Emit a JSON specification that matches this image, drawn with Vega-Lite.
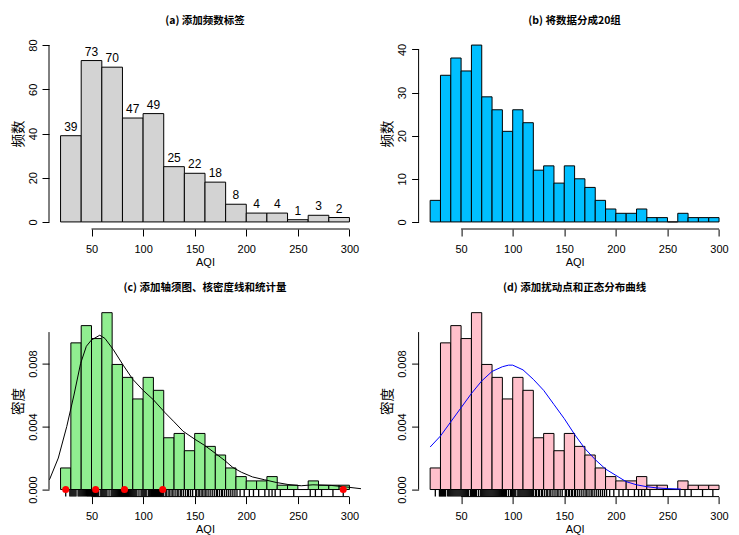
{
  "$schema": "https://vega.github.io/schema/vega-lite/v6.json",
  "bounds": "flush",
  "columns": 2,
  "spacing": {"row": 76.6, "column": 57.6},
  "padding": {"left": 10, "top": 15, "right": 5, "bottom": 3},
  "background": "white",
  "datasets": {
    "bins20": [
      {"lo": 20, "hi": 40, "mid": 30, "count": 39},
      {"lo": 40, "hi": 60, "mid": 50, "count": 73},
      {"lo": 60, "hi": 80, "mid": 70, "count": 70},
      {"lo": 80, "hi": 100, "mid": 90, "count": 47},
      {"lo": 100, "hi": 120, "mid": 110, "count": 49},
      {"lo": 120, "hi": 140, "mid": 130, "count": 25},
      {"lo": 140, "hi": 160, "mid": 150, "count": 22},
      {"lo": 160, "hi": 180, "mid": 170, "count": 18},
      {"lo": 180, "hi": 200, "mid": 190, "count": 8},
      {"lo": 200, "hi": 220, "mid": 210, "count": 4},
      {"lo": 220, "hi": 240, "mid": 230, "count": 4},
      {"lo": 240, "hi": 260, "mid": 250, "count": 1},
      {"lo": 260, "hi": 280, "mid": 270, "count": 3},
      {"lo": 280, "hi": 300, "mid": 290, "count": 2}
    ],
    "bins10": [
      {"lo": 20, "hi": 30, "count": 5, "density": 0.00137},
      {"lo": 30, "hi": 40, "count": 34, "density": 0.009315},
      {"lo": 40, "hi": 50, "count": 38, "density": 0.010411},
      {"lo": 50, "hi": 60, "count": 35, "density": 0.009589},
      {"lo": 60, "hi": 70, "count": 41, "density": 0.011233},
      {"lo": 70, "hi": 80, "count": 29, "density": 0.007945},
      {"lo": 80, "hi": 90, "count": 26, "density": 0.007123},
      {"lo": 90, "hi": 100, "count": 21, "density": 0.005753},
      {"lo": 100, "hi": 110, "count": 26, "density": 0.007123},
      {"lo": 110, "hi": 120, "count": 23, "density": 0.006301},
      {"lo": 120, "hi": 130, "count": 12, "density": 0.003288},
      {"lo": 130, "hi": 140, "count": 13, "density": 0.003562},
      {"lo": 140, "hi": 150, "count": 9, "density": 0.002466},
      {"lo": 150, "hi": 160, "count": 13, "density": 0.003562},
      {"lo": 160, "hi": 170, "count": 10, "density": 0.00274},
      {"lo": 170, "hi": 180, "count": 8, "density": 0.002192},
      {"lo": 180, "hi": 190, "count": 5, "density": 0.00137},
      {"lo": 190, "hi": 200, "count": 3, "density": 0.000822},
      {"lo": 200, "hi": 210, "count": 2, "density": 0.000548},
      {"lo": 210, "hi": 220, "count": 2, "density": 0.000548},
      {"lo": 220, "hi": 230, "count": 3, "density": 0.000822},
      {"lo": 230, "hi": 240, "count": 1, "density": 0.000274},
      {"lo": 240, "hi": 250, "count": 1, "density": 0.000274},
      {"lo": 250, "hi": 260, "count": 0, "density": 0},
      {"lo": 260, "hi": 270, "count": 2, "density": 0.000548},
      {"lo": 270, "hi": 280, "count": 1, "density": 0.000274},
      {"lo": 280, "hi": 290, "count": 1, "density": 0.000274},
      {"lo": 290, "hi": 300, "count": 1, "density": 0.000274}
    ],
    "kde": [
      {"x": 3, "d": 0.0002},
      {"x": 9.6, "d": 0.00068},
      {"x": 17.8, "d": 0.002},
      {"x": 26, "d": 0.004},
      {"x": 33, "d": 0.006},
      {"x": 39.4, "d": 0.008},
      {"x": 45, "d": 0.0091},
      {"x": 50, "d": 0.0095},
      {"x": 58, "d": 0.0098},
      {"x": 63, "d": 0.0096},
      {"x": 71, "d": 0.0089},
      {"x": 80.7, "d": 0.0079},
      {"x": 90, "d": 0.007},
      {"x": 100, "d": 0.0063},
      {"x": 110, "d": 0.0057},
      {"x": 121, "d": 0.0049},
      {"x": 130, "d": 0.0043},
      {"x": 138.8, "d": 0.0037},
      {"x": 150, "d": 0.0032},
      {"x": 159.7, "d": 0.0028},
      {"x": 170, "d": 0.0023},
      {"x": 179, "d": 0.00185},
      {"x": 187, "d": 0.0014},
      {"x": 195.2, "d": 0.0011},
      {"x": 206, "d": 0.0008},
      {"x": 217.8, "d": 0.00062},
      {"x": 229, "d": 0.00045},
      {"x": 240.4, "d": 0.00032},
      {"x": 253.3, "d": 0.00024},
      {"x": 264.6, "d": 0.0003},
      {"x": 282.3, "d": 0.00026},
      {"x": 298.5, "d": 0.00015},
      {"x": 311.4, "d": 0.00005},
      {"x": 320, "d": 0.00002}
    ],
    "normal": [
      {"x": 20, "d": 0.0027},
      {"x": 30, "d": 0.0034},
      {"x": 40, "d": 0.0043},
      {"x": 50, "d": 0.0052},
      {"x": 60, "d": 0.0061},
      {"x": 70, "d": 0.0069},
      {"x": 80, "d": 0.0075},
      {"x": 90, "d": 0.0078},
      {"x": 96, "d": 0.0079},
      {"x": 100, "d": 0.0079},
      {"x": 110, "d": 0.0076},
      {"x": 120, "d": 0.007},
      {"x": 130, "d": 0.0063},
      {"x": 140, "d": 0.0054},
      {"x": 150, "d": 0.0045},
      {"x": 160, "d": 0.0035},
      {"x": 170, "d": 0.0026},
      {"x": 180, "d": 0.0019},
      {"x": 190, "d": 0.0013},
      {"x": 200, "d": 0.0009},
      {"x": 210, "d": 0.0005},
      {"x": 220, "d": 0.0003},
      {"x": 230, "d": 0.00018},
      {"x": 240, "d": 0.0001},
      {"x": 250, "d": 0.00006},
      {"x": 263, "d": 0.00003}
    ],
    "stats": [
      {"v": 25}, {"v": 54}, {"v": 82}, {"v": 119}, {"v": 294}
    ],
    "rug": [
      {"v": 25}, {"v": 29}, {"v": 30}, {"v": 31}, {"v": 32}, {"v": 33}, {"v": 34}, {"v": 35}, {"v": 37}, {"v": 38},
      {"v": 39}, {"v": 40}, {"v": 41}, {"v": 42}, {"v": 43}, {"v": 44}, {"v": 45}, {"v": 46}, {"v": 47}, {"v": 48},
      {"v": 49}, {"v": 50}, {"v": 51}, {"v": 52}, {"v": 53}, {"v": 54}, {"v": 55}, {"v": 56}, {"v": 57}, {"v": 59},
      {"v": 60}, {"v": 61}, {"v": 62}, {"v": 63}, {"v": 64}, {"v": 65}, {"v": 67}, {"v": 69}, {"v": 70}, {"v": 71},
      {"v": 72}, {"v": 73}, {"v": 74}, {"v": 75}, {"v": 76}, {"v": 77}, {"v": 78}, {"v": 79}, {"v": 80}, {"v": 81},
      {"v": 82}, {"v": 83}, {"v": 84}, {"v": 85}, {"v": 86}, {"v": 87}, {"v": 88}, {"v": 89}, {"v": 90}, {"v": 91},
      {"v": 92}, {"v": 93}, {"v": 94}, {"v": 96}, {"v": 98}, {"v": 99}, {"v": 100}, {"v": 101}, {"v": 102}, {"v": 103},
      {"v": 105}, {"v": 106}, {"v": 107}, {"v": 108}, {"v": 109}, {"v": 110}, {"v": 111}, {"v": 112}, {"v": 113}, {"v": 114},
      {"v": 115}, {"v": 116}, {"v": 117}, {"v": 118}, {"v": 119}, {"v": 120}, {"v": 122}, {"v": 123}, {"v": 125}, {"v": 126},
      {"v": 128}, {"v": 129}, {"v": 131}, {"v": 133}, {"v": 134}, {"v": 136}, {"v": 137}, {"v": 139}, {"v": 141}, {"v": 143},
      {"v": 144}, {"v": 146}, {"v": 148}, {"v": 151}, {"v": 152}, {"v": 154}, {"v": 155}, {"v": 157}, {"v": 158}, {"v": 160},
      {"v": 161}, {"v": 163}, {"v": 165}, {"v": 167}, {"v": 169}, {"v": 171}, {"v": 172}, {"v": 174}, {"v": 176}, {"v": 177},
      {"v": 179}, {"v": 181}, {"v": 183}, {"v": 185}, {"v": 187}, {"v": 189}, {"v": 191}, {"v": 194}, {"v": 198}, {"v": 203},
      {"v": 207}, {"v": 212}, {"v": 218}, {"v": 222}, {"v": 225}, {"v": 228}, {"v": 233}, {"v": 246}, {"v": 262}, {"v": 267},
      {"v": 273}, {"v": 284}, {"v": 294}
    ],
    "one": [{"k": 1}]
  },
  "config": {
    "font": "Liberation Sans",
    "view": {"stroke": null},
    "axis": {
      "grid": false, "domain": false, "tickColor": "black", "tickSize": 7, "tickWidth": 1,
      "labelColor": "black", "labelFont": "Liberation Sans", "labelFontSize": 11,
      "labelOverlap": false, "labelFlush": false,
      "titleColor": "black", "titleFontWeight": "normal"
    },
    "axisX": {"labelPadding": 7, "titlePadding": 2, "titleFont": "Liberation Sans", "titleFontSize": 11, "labelAngle": 0, "labelAlign": "center", "labelBaseline": "top"},
    "axisY": {"labelAngle": 270, "labelAlign": "center", "labelBaseline": "bottom", "labelPadding": 4, "titlePadding": 2, "titleFont": "Noto Sans CJK SC", "titleFontSize": 13.5},
    "title": {"font": "Noto Sans CJK SC", "fontSize": 10.5, "fontWeight": "bold", "color": "black", "anchor": "middle", "frame": "group", "offset": 12, "baseline": "bottom"}
  },
  "concat": [
    {
      "width": 312, "height": 191,
      "title": "(a) 添加频数标签",
      "layer": [
        {
          "data": {"name": "bins20"},
          "mark": {"type": "bar", "fill": "#D3D3D3", "stroke": "black", "strokeWidth": 1},
          "encoding": {
            "x": {"field": "lo", "type": "quantitative", "title": "AQI", "scale": {"domain": [8.8, 311.2], "nice": false, "zero": false}, "axis": {"values": [50, 100, 150, 200, 250, 300]}},
            "x2": {"field": "hi"},
            "y": {"field": "count", "type": "quantitative", "title": "频数", "scale": {"domain": [-3.2, 83.2], "nice": false, "zero": false}, "axis": {"values": [0, 20, 40, 60, 80]}},
            "y2": {"datum": 0}
          }
        },
        {
          "data": {"name": "bins20"},
          "mark": {"type": "text", "baseline": "bottom", "dy": -2, "fontSize": 12, "color": "black"},
          "encoding": {
            "x": {"field": "mid", "type": "quantitative", "title": "AQI"},
            "y": {"field": "count", "type": "quantitative", "title": "频数"},
            "text": {"field": "count"}
          }
        },
        {
          "data": {"name": "one"},
          "mark": {"type": "rule", "color": "black", "strokeWidth": 1},
          "encoding": {"x": {"datum": 50}, "x2": {"datum": 300}, "y": {"datum": -3.2}}
        },
        {
          "data": {"name": "one"},
          "mark": {"type": "rule", "color": "black", "strokeWidth": 1},
          "encoding": {"x": {"datum": 8.8}, "y": {"datum": 0}, "y2": {"datum": 80}}
        }
      ]
    },
    {
      "width": 312, "height": 191,
      "title": "(b) 将数据分成20组",
      "layer": [
        {
          "data": {"name": "bins10"},
          "mark": {"type": "bar", "fill": "#00BFFF", "stroke": "black", "strokeWidth": 1},
          "encoding": {
            "x": {"field": "lo", "type": "quantitative", "title": "AQI", "scale": {"domain": [8.8, 311.2], "nice": false, "zero": false}, "axis": {"values": [50, 100, 150, 200, 250, 300]}},
            "x2": {"field": "hi"},
            "y": {"field": "count", "type": "quantitative", "title": "频数", "scale": {"domain": [-1.64, 42.64], "nice": false, "zero": false}, "axis": {"values": [0, 10, 20, 30, 40]}},
            "y2": {"datum": 0}
          }
        },
        {
          "data": {"name": "one"},
          "mark": {"type": "rule", "color": "black", "strokeWidth": 1},
          "encoding": {"x": {"datum": 50}, "x2": {"datum": 300}, "y": {"datum": -1.64}}
        },
        {
          "data": {"name": "one"},
          "mark": {"type": "rule", "color": "black", "strokeWidth": 1},
          "encoding": {"x": {"datum": 8.8}, "y": {"datum": 0}, "y2": {"datum": 40}}
        }
      ]
    },
    {
      "width": 312, "height": 191,
      "title": "(c) 添加轴须图、核密度线和统计量",
      "layer": [
        {
          "data": {"name": "bins10"},
          "mark": {"type": "bar", "fill": "#90EE90", "stroke": "black", "strokeWidth": 1},
          "encoding": {
            "x": {"field": "lo", "type": "quantitative", "title": "AQI", "scale": {"domain": [8.8, 311.2], "nice": false, "zero": false}, "axis": {"values": [50, 100, 150, 200, 250, 300]}},
            "x2": {"field": "hi"},
            "y": {"field": "density", "type": "quantitative", "title": "密度", "scale": {"domain": [-0.000449, 0.011682], "nice": false, "zero": false}, "axis": {"values": [0, 0.002, 0.004, 0.006, 0.008, 0.01], "labelExpr": "(round(datum.value*1000) % 4 == 0) ? format(datum.value, '.3f') : ''"}},
            "y2": {"datum": 0}
          }
        },
        {
          "data": {"name": "kde"},
          "mark": {"type": "line", "color": "black", "strokeWidth": 1, "clip": true},
          "encoding": {
            "x": {"field": "x", "type": "quantitative", "title": "AQI"},
            "y": {"field": "d", "type": "quantitative", "title": "密度"}
          }
        },
        {
          "data": {"name": "rug"},
          "mark": {"type": "rule", "color": "black", "strokeWidth": 1.3},
          "encoding": {
            "x": {"field": "v", "type": "quantitative", "title": "AQI"},
            "y": {"datum": -0.000449},
            "y2": {"datum": 0}
          }
        },
        {
          "data": {"name": "stats"},
          "mark": {"type": "point", "shape": "circle", "filled": true, "color": "red", "size": 50, "opacity": 1},
          "encoding": {
            "x": {"field": "v", "type": "quantitative", "title": "AQI"},
            "y": {"datum": 0}
          }
        },
        {
          "data": {"name": "one"},
          "mark": {"type": "rule", "color": "black", "strokeWidth": 1},
          "encoding": {"x": {"datum": 50}, "x2": {"datum": 300}, "y": {"datum": -0.000449}}
        },
        {
          "data": {"name": "one"},
          "mark": {"type": "rule", "color": "black", "strokeWidth": 1},
          "encoding": {"x": {"datum": 8.8}, "y": {"datum": 0}, "y2": {"datum": 0.01}}
        }
      ]
    },
    {
      "width": 312, "height": 191,
      "title": "(d) 添加扰动点和正态分布曲线",
      "layer": [
        {
          "data": {"name": "bins10"},
          "mark": {"type": "bar", "fill": "#FFC0CB", "stroke": "black", "strokeWidth": 1},
          "encoding": {
            "x": {"field": "lo", "type": "quantitative", "title": "AQI", "scale": {"domain": [8.8, 311.2], "nice": false, "zero": false}, "axis": {"values": [50, 100, 150, 200, 250, 300]}},
            "x2": {"field": "hi"},
            "y": {"field": "density", "type": "quantitative", "title": "密度", "scale": {"domain": [-0.000449, 0.011682], "nice": false, "zero": false}, "axis": {"values": [0, 0.002, 0.004, 0.006, 0.008, 0.01], "labelExpr": "(round(datum.value*1000) % 4 == 0) ? format(datum.value, '.3f') : ''"}},
            "y2": {"datum": 0}
          }
        },
        {
          "data": {"name": "rug"},
          "mark": {"type": "rule", "color": "black", "strokeWidth": 1.3},
          "encoding": {
            "x": {"field": "v", "type": "quantitative", "title": "AQI"},
            "y": {"datum": -0.000449},
            "y2": {"datum": 0}
          }
        },
        {
          "data": {"name": "normal"},
          "mark": {"type": "line", "color": "blue", "strokeWidth": 1},
          "encoding": {
            "x": {"field": "x", "type": "quantitative", "title": "AQI"},
            "y": {"field": "d", "type": "quantitative", "title": "密度"}
          }
        },
        {
          "data": {"name": "one"},
          "mark": {"type": "rule", "color": "black", "strokeWidth": 1},
          "encoding": {"x": {"datum": 50}, "x2": {"datum": 300}, "y": {"datum": -0.000449}}
        },
        {
          "data": {"name": "one"},
          "mark": {"type": "rule", "color": "black", "strokeWidth": 1},
          "encoding": {"x": {"datum": 8.8}, "y": {"datum": 0}, "y2": {"datum": 0.01}}
        }
      ]
    }
  ]
}
